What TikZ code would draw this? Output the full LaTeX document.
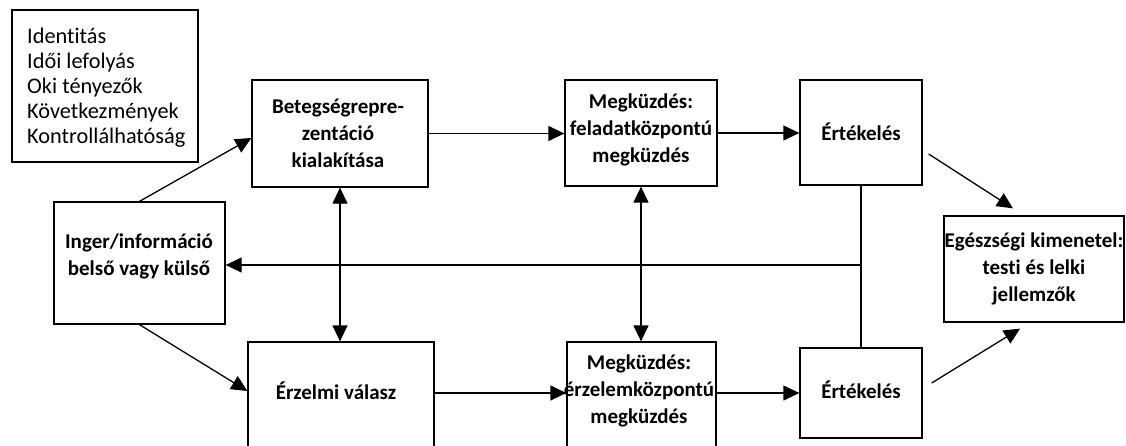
\documentclass[tikz,border=0pt]{standalone}
\usepackage{fontspec}
\setmainfont{Carlito}[Ligatures={NoCommon}]
\usetikzlibrary{arrows.meta,calc}
\begin{document}
\begin{tikzpicture}[x=1pt,y=-1pt,
  box/.style={draw, line width=1.3pt, inner sep=0pt},
  boxtext/.style={font=\bfseries\fontsize{21}{27}\selectfont, align=center, inner sep=0pt},
  listtext/.style={font=\fontsize{22.3}{25}\selectfont, align=left, inner sep=0pt, anchor=west},
  conn/.style={line width=1.3pt, -{Triangle[length=16pt,width=15pt]}},
  dconn/.style={line width=1.3pt, {Triangle[length=16pt,width=15pt]}-{Triangle[length=16pt,width=15pt]}},
  plain/.style={line width=1.3pt}]
\useasboundingbox (0,0) rectangle (1126,445);
\clip (0,0) rectangle (1126,445);

% boxes
\node[box, minimum width=186, minimum height=152] (legend) at (105,86) {};
\node[box, minimum width=176, minimum height=107] (bet) at (340,133.5) {};
\node[box, minimum width=152, minimum height=106] (meg1) at (641,133) {};
\node[box, minimum width=122, minimum height=105] (ert1) at (861,132.5) {};
\node[box, minimum width=171, minimum height=122] (inger) at (139.5,263) {};
\node[box, minimum width=186, minimum height=128] (erz) at (341,406) {};
\node[box, minimum width=149, minimum height=128] (meg2) at (641.5,406) {};
\node[box, minimum width=122, minimum height=90] (ert2) at (861,393) {};
\node[box, minimum width=180, minimum height=106] (out) at (1034,269) {};

% texts
\node[listtext] (legendT) at (27,88) {Identitás\\Idői lefolyás\\Oki tényezők\\Következmények\\Kontrollálhatóság};
\node[boxtext] (betT) at (338,133) {Betegségrepre-\\zentáció\\kialakítása};
\node[boxtext] (meg1T) at (641,130) {Megküzdés:\\feladatközpontú\\megküzdés};
\node[boxtext] (ert1T) at (861,132) {Értékelés};
\node[boxtext] (ingerT) at (139,256) {Inger/információ\\belső vagy külső};
\node[boxtext] (erzT) at (336,391) {Érzelmi válasz};
\node[boxtext] (meg2T) at (639,391) {Megküzdés:\\érzelemközpontú\\megküzdés};
\node[boxtext] (ert2T) at (861,390) {Értékelés};
\node[boxtext] (outT) at (1034,269) {Egészségi kimenetel:\\testi és lelki\\jellemzők};

% feedback entry point on the stimulus box
\coordinate (ingerIn) at ([yshift=-2pt]inger.east);

% connectors
\draw[conn] (inger.north) -- ([yshift=-4.5pt]bet.west);
\draw[conn] (inger.south) -- ([yshift=15pt]erz.west);
\draw[conn] (bet.east) -- (bet.east -| meg1.west);
\draw[conn] (meg1.east) -- (meg1.east -| ert1.west);
\draw[conn] ([yshift=13pt]erz.east) -- ([yshift=13pt]erz.east -| meg2.west);
\draw[conn] (meg2.east |- ert2.west) -- (ert2.west);
\draw[dconn] (bet.south) -- (bet.south |- erz.north);
\draw[dconn] (meg1.south) -- (meg1.south |- meg2.north);
\draw[plain] (ert1.south) -- (ert2.north);
\draw[conn] (ert1.south |- ingerIn) -- (ingerIn);
\draw[conn] ([shift={(6pt,-21.5pt)}]ert1.east) -- ([shift={(-21pt,7pt)}]out.north);
\draw[conn] ([shift={(9pt,10pt)}]ert2.east) -- ([shift={(-14pt,-6pt)}]out.south);
\end{tikzpicture}
\end{document}
